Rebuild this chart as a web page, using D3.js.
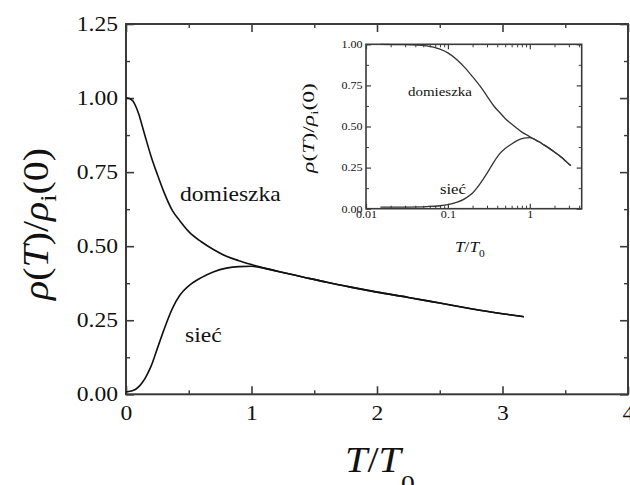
<!DOCTYPE html>
<html>
<head>
<meta charset="utf-8">
<script src="https://cdn.jsdelivr.net/npm/d3@7"></script>
<style>
  html, body { margin: 0; padding: 0; background: #fff; }
  svg { display: block; }
  text { font-family: "Liberation Serif", "Times New Roman", serif; fill: #111; }
</style>
</head>
<body>
<svg id="chart" width="630" height="485"></svg>
<script>
// Reduced temperature T/T0
const tValues = [0, 0.015, 0.03, 0.055, 0.08, 0.1, 0.13, 0.16, 0.2, 0.25, 0.3, 0.37, 0.43, 0.5,
                 0.6, 0.7, 0.8, 0.9, 1.0, 1.1, 1.25, 1.4, 1.6, 1.8, 2.0, 2.25, 2.5, 2.75, 3.0, 3.17];
// Impurity ("domieszka") contribution, rho(T)/rho_i(0)
const domieszka = [1.00, 1.00, 0.998, 0.99, 0.97, 0.948, 0.905, 0.86, 0.803, 0.742, 0.685, 0.62, 0.585, 0.549,
                   0.515, 0.488, 0.466, 0.451, 0.438, 0.426, 0.411, 0.397, 0.378, 0.361, 0.345, 0.327, 0.308, 0.289, 0.272, 0.262];
// Lattice ("sieć") contribution, rho(T)/rho_i(0)
const siec = [0.008, 0.009, 0.01, 0.013, 0.018, 0.025, 0.04, 0.06, 0.095, 0.155, 0.215, 0.29, 0.335, 0.366,
              0.394, 0.414, 0.426, 0.431, 0.432, 0.426, 0.411, 0.397, 0.378, 0.361, 0.345, 0.327, 0.308, 0.289, 0.272, 0.262];

const mainXTicks = [0, 1, 2, 3, 4];
const mainXMinor = [0.5, 1.5, 2.5, 3.5];
const mainYTicks = [0, 0.25, 0.5, 0.75, 1.0, 1.25];
const mainYMinor = [0.125, 0.375, 0.625, 0.875, 1.125];
const insetXTicks = [0.01, 0.1, 1];
const insetXMinor = [0.02, 0.03, 0.04, 0.05, 0.06, 0.07, 0.08, 0.09,
                     0.2, 0.3, 0.4, 0.5, 0.6, 0.7, 0.8, 0.9, 2, 3, 4];
const insetYTicks = [0, 0.25, 0.5, 0.75, 1.0];
const insetYMinor = [0.125, 0.375, 0.625, 0.875];

const svg = d3.select("#chart");
const SX = 1.15;            // horizontal stretch of all lettering
const FRAME = "#3a3a3a";

const rows = tValues.map((t, i) => ({ t, dom: domieszka[i], sie: siec[i] }));

// ---------- main panel ----------
const x = d3.scaleLinear().domain([0, 4]).range([126, 628]);
const y = d3.scaleLinear().domain([0, 1.25]).range([394.3, 24]);

function stretchTicks(sel) {
  sel.selectAll(".tick text").attr("transform", `scale(${SX},1)`);
}
function styleAxis(sel, width) {
  sel.select(".domain").remove();
  sel.selectAll(".tick line").attr("stroke", FRAME).attr("stroke-width", width);
}

const main = svg.append("g");
main.append("rect")
  .attr("x", x(0)).attr("y", y(1.25))
  .attr("width", x(4) - x(0)).attr("height", y(0) - y(1.25))
  .attr("fill", "none").attr("stroke", FRAME).attr("stroke-width", 2);

// bottom / top
main.append("g").attr("transform", `translate(0,${y(0)})`)
  .call(d3.axisBottom(x).tickValues(mainXTicks).tickSize(-8).tickPadding(11).tickFormat(d3.format("d")))
  .call(g => { styleAxis(g, 1.6); stretchTicks(g); g.selectAll("text").attr("font-size", 20.5).attr("font-family", "Liberation Serif").attr("fill", "#111"); });
main.append("g").attr("transform", `translate(0,${y(0)})`)
  .call(d3.axisBottom(x).tickValues(mainXMinor).tickSize(-4).tickFormat(""))
  .call(g => styleAxis(g, 1.4));
main.append("g").attr("transform", `translate(0,${y(1.25)})`)
  .call(d3.axisTop(x).tickValues(mainXTicks).tickSize(-8).tickFormat(""))
  .call(g => styleAxis(g, 1.6));
main.append("g").attr("transform", `translate(0,${y(1.25)})`)
  .call(d3.axisTop(x).tickValues(mainXMinor).tickSize(-4).tickFormat(""))
  .call(g => styleAxis(g, 1.4));

// left / right
main.append("g").attr("transform", `translate(${x(0)},0)`)
  .call(d3.axisLeft(y).tickValues(mainYTicks).tickSize(-8).tickPadding(7).tickFormat(d3.format(".2f")))
  .call(g => { styleAxis(g, 1.6); stretchTicks(g); g.selectAll("text").attr("font-size", 20.5).attr("font-family", "Liberation Serif").attr("fill", "#111"); });
main.append("g").attr("transform", `translate(${x(0)},0)`)
  .call(d3.axisLeft(y).tickValues(mainYMinor).tickSize(-4).tickFormat(""))
  .call(g => styleAxis(g, 1.4));
main.append("g").attr("transform", `translate(${x(4)},0)`)
  .call(d3.axisRight(y).tickValues(mainYTicks).tickSize(-8).tickFormat(""))
  .call(g => styleAxis(g, 1.6));
main.append("g").attr("transform", `translate(${x(4)},0)`)
  .call(d3.axisRight(y).tickValues(mainYMinor).tickSize(-4).tickFormat(""))
  .call(g => styleAxis(g, 1.4));

const lineDom = d3.line().x(d => x(d.t)).y(d => y(d.dom)).curve(d3.curveMonotoneX);
const lineSie = d3.line().x(d => x(d.t)).y(d => y(d.sie)).curve(d3.curveMonotoneX);
main.append("path").datum(rows).attr("d", lineSie)
  .attr("fill", "none").attr("stroke", "#111").attr("stroke-width", 1.6);
main.append("path").datum(rows).attr("d", lineDom)
  .attr("fill", "none").attr("stroke", "#111").attr("stroke-width", 1.6);

function label(parent, px, py, str, size, anchor) {
  return parent.append("text")
    .attr("transform", `translate(${px},${py}) scale(${SX},1)`)
    .attr("text-anchor", anchor || "start")
    .attr("font-size", size)
    .text(str);
}
label(main, 180, 201, "domieszka", 20.5);
label(main, 185, 341.7, "sieć", 20.5);

// axis titles
const xt = main.append("text")
  .attr("transform", `translate(345,471.7) scale(${SX},1)`)
  .attr("font-size", 35);
xt.append("tspan").attr("font-style", "italic").text("T");
xt.append("tspan").text("/");
xt.append("tspan").attr("font-style", "italic").text("T");
xt.append("tspan").attr("font-size", 24).attr("dy", 19).text("0");

function yTitle(parent, cx, cy, size, targetLen) {
  const t = parent.append("text").attr("font-size", size).attr("text-anchor", "middle");
  t.append("tspan").attr("font-style", "italic").text("ρ");
  t.append("tspan").text("(");
  t.append("tspan").attr("font-style", "italic").text("T");
  t.append("tspan").text(")/");
  t.append("tspan").attr("font-style", "italic").text("ρ");
  t.append("tspan").attr("font-size", size * 0.65).attr("dy", size * 0.22).text("i");
  t.append("tspan").attr("dy", -size * 0.22).text("(0)");
  const len = t.node().getComputedTextLength();
  const k = targetLen / len;
  t.attr("transform", `translate(${cx},${cy}) rotate(-90) scale(${k},${SX})`);
  return t;
}
yTitle(main, 48, 224, 32, 152);

// ---------- inset panel ----------
const xi = d3.scaleLog().domain([0.01, 4.3]).range([366, 581.7]);
const yi = d3.scaleLinear().domain([0, 1]).range([208.7, 44.3]);
const inset = svg.append("g");
inset.append("rect")
  .attr("x", xi.range()[0]).attr("y", yi(1))
  .attr("width", xi.range()[1] - xi.range()[0]).attr("height", yi(0) - yi(1))
  .attr("fill", "#fff").attr("stroke", FRAME).attr("stroke-width", 1.6);

inset.append("g").attr("transform", `translate(0,${yi(0)})`)
  .call(d3.axisBottom(xi).tickValues(insetXTicks).tickSize(-5).tickPadding(2).tickFormat(d => String(d)))
  .call(g => { styleAxis(g, 1.2); stretchTicks(g); g.selectAll("text").attr("font-size", 10.5).attr("font-family", "Liberation Serif").attr("fill", "#222"); });
inset.append("g").attr("transform", `translate(0,${yi(0)})`)
  .call(d3.axisBottom(xi).tickValues(insetXMinor).tickSize(-3).tickFormat(""))
  .call(g => styleAxis(g, 1));
inset.append("g").attr("transform", `translate(0,${yi(1)})`)
  .call(d3.axisTop(xi).tickValues(insetXTicks).tickSize(-5).tickFormat(""))
  .call(g => styleAxis(g, 1.2));
inset.append("g").attr("transform", `translate(0,${yi(1)})`)
  .call(d3.axisTop(xi).tickValues(insetXMinor).tickSize(-3).tickFormat(""))
  .call(g => styleAxis(g, 1));
inset.append("g").attr("transform", `translate(${xi.range()[0]},0)`)
  .call(d3.axisLeft(yi).tickValues(insetYTicks).tickSize(-5).tickPadding(3).tickFormat(d3.format(".2f")))
  .call(g => { styleAxis(g, 1.2); stretchTicks(g); g.selectAll("text").attr("font-size", 10.5).attr("font-family", "Liberation Serif").attr("fill", "#222"); });
inset.append("g").attr("transform", `translate(${xi.range()[0]},0)`)
  .call(d3.axisLeft(yi).tickValues(insetYMinor).tickSize(-3).tickFormat(""))
  .call(g => styleAxis(g, 1));
inset.append("g").attr("transform", `translate(${xi.range()[1]},0)`)
  .call(d3.axisRight(yi).tickValues(insetYTicks).tickSize(-5).tickFormat(""))
  .call(g => styleAxis(g, 1.2));
inset.append("g").attr("transform", `translate(${xi.range()[1]},0)`)
  .call(d3.axisRight(yi).tickValues(insetYMinor).tickSize(-3).tickFormat(""))
  .call(g => styleAxis(g, 1));

const logRows = rows.filter(d => d.t > 0);
const iDom = d3.line().x(d => xi(d.t)).y(d => yi(d.dom)).curve(d3.curveMonotoneX);
const iSie = d3.line().x(d => xi(d.t)).y(d => yi(d.sie)).curve(d3.curveMonotoneX);
inset.append("path").datum(logRows).attr("d", iSie)
  .attr("fill", "none").attr("stroke", "#333").attr("stroke-width", 1.3);
inset.append("path").datum(logRows).attr("d", iDom)
  .attr("fill", "none").attr("stroke", "#333").attr("stroke-width", 1.3);

label(inset, 408, 96, "domieszka", 13).attr("fill", "#333");
label(inset, 440, 194, "sieć", 14.5).attr("fill", "#333");

const xti = inset.append("text")
  .attr("transform", `translate(455,252) scale(${SX},1)`)
  .attr("font-size", 15).attr("fill", "#333");
xti.append("tspan").attr("font-style", "italic").text("T");
xti.append("tspan").text("/");
xti.append("tspan").attr("font-style", "italic").text("T");
xti.append("tspan").attr("font-size", 10).attr("dy", 5).text("0");

yTitle(inset, 314, 128, 15, 90).attr("fill", "#333");
</script>
</body>
</html>
